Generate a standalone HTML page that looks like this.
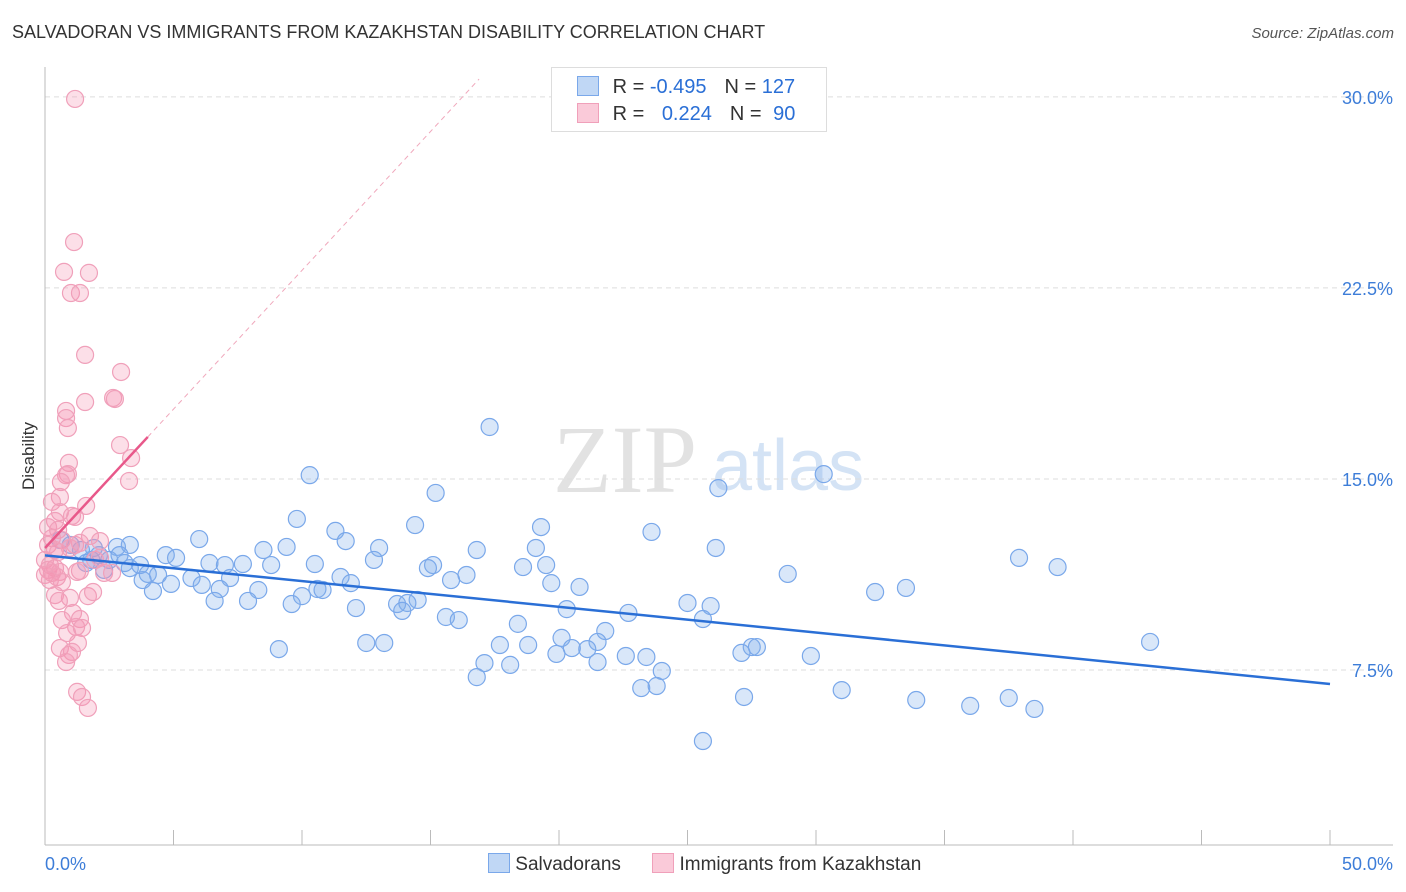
<!DOCTYPE html>
<html><head><meta charset="utf-8"><style>
body{margin:0;background:#fff;font-family:"Liberation Sans",sans-serif;}
#wrap{position:relative;width:1406px;height:892px;overflow:hidden;}
.t{position:absolute;white-space:nowrap;}
</style></head><body>
<div id="wrap">
<div class="t" style="left:12px;top:22px;font-size:18px;color:#333;">SALVADORAN VS IMMIGRANTS FROM KAZAKHSTAN DISABILITY CORRELATION CHART</div>
<div class="t" style="right:12px;top:25px;font-size:15px;color:#555;font-style:italic;">Source: ZipAtlas.com</div>
<svg id="svg" width="1406" height="892" style="position:absolute;left:0;top:0"></svg>
</div>
<script>
const yTicks=[7.5,15.0,22.5,30.0];
const xTickLabels=["0.0%","50.0%"];
const blueX=[17.3,30.3,10.3,26.2,15.2,9.8,14.4,19.3,23.6,11.3,6.0,11.7,2.8,16.8,19.1,26.1,8.5,9.4,13.0,4.7,5.1,37.9,39.4,6.4,7.7,8.8,7.0,12.8,10.5,15.1,14.9,18.6,19.5,28.9,3.3,4.0,4.4,5.7,7.2,11.5,11.9,16.4,15.8,19.7,20.8,4.9,3.8,6.1,8.3,10.6,10.8,10.0,32.3,33.5,4.2,6.8,7.9,6.6,9.6,12.1,13.7,14.5,14.1,13.9,20.3,25.0,25.9,22.7,15.6,16.1,25.6,18.4,21.8,20.1,21.5,17.7,18.8,12.5,13.2,9.1,20.5,21.1,27.5,27.7,27.1,19.9,22.6,23.4,29.8,43.0,21.5,17.1,18.1,24.0,16.8,23.2,23.8,31.0,27.2,33.9,36.0,37.5,38.5,25.6,3.3,2.1,1.8,2.5,2.3,3.1,1.9,1.4,1.0,0.6,1.6,2.9,3.7];
const blueY=[17.04,15.19,15.15,14.64,14.45,13.43,13.19,13.11,12.92,12.96,12.64,12.56,12.33,12.21,12.29,12.29,12.21,12.33,12.29,12.01,11.90,11.90,11.54,11.70,11.66,11.62,11.62,11.82,11.66,11.62,11.50,11.54,11.62,11.27,11.50,11.27,11.23,11.11,11.11,11.15,10.91,11.23,11.03,10.91,10.76,10.88,11.03,10.84,10.64,10.68,10.64,10.40,10.56,10.72,10.60,10.68,10.21,10.21,10.09,9.93,10.09,10.25,10.13,9.82,9.89,10.13,10.01,9.74,9.58,9.46,9.50,9.31,9.03,8.76,8.60,8.48,8.48,8.56,8.56,8.32,8.36,8.32,8.40,8.40,8.17,8.13,8.05,8.01,8.05,8.60,7.81,7.77,7.70,7.46,7.22,6.79,6.87,6.71,6.44,6.32,6.09,6.40,5.97,4.71,12.41,12.01,11.82,11.82,11.43,11.70,12.29,12.21,12.41,12.60,11.70,12.01,11.62];
const pinkX=[1.17,1.13,0.74,1.71,1.01,1.36,1.56,2.96,2.65,2.72,1.56,0.82,0.82,0.89,2.92,3.35,0.93,0.89,0.82,0.62,3.27,0.58,1.60,0.27,0.58,1.05,1.17,0.39,0.12,0.51,1.75,2.14,0.27,0.66,1.17,1.36,0.12,0.39,0.51,0.97,0,0.19,0.39,0.12,0.58,0.27,0,0.47,1.36,1.25,2.30,2.61,1.95,0.19,0.66,2.14,0.39,0.97,1.67,1.87,0.54,1.09,0.66,1.36,1.21,1.44,0.86,1.28,0.58,1.05,0.93,0.82,1.25,1.44,1.67];
const pinkY=[29.92,24.30,23.13,23.09,22.30,22.30,19.87,19.20,18.18,18.14,18.02,17.67,17.39,17.00,16.33,15.82,15.63,15.19,15.15,14.88,14.92,14.29,13.94,14.10,13.70,13.55,13.51,13.35,13.11,13.00,12.76,12.56,12.68,12.60,12.41,12.49,12.41,12.21,12.13,12.29,11.82,11.62,11.50,11.43,11.35,11.31,11.23,11.15,11.39,11.35,11.31,11.31,11.82,11.03,10.95,11.90,10.44,10.33,10.40,10.56,10.21,9.74,9.46,9.50,9.19,9.15,8.95,8.56,8.36,8.21,8.09,7.81,6.64,6.44,6.01];
const blueTrend=[12.0,6.95]; // y at x=0 and x=50
const pinkTrend=[12.29,1.09]; // intercept, slope
const NS="http://www.w3.org/2000/svg";
const svg=document.getElementById('svg');
const sx=v=>45+v*25.7, sy=v=>861-v*25.47;
function el(t,a,p){const e=document.createElementNS(NS,t);for(const k in a)e.setAttribute(k,a[k]);(p||svg).appendChild(e);return e;}
// watermark
let w=el('text',{x:553,y:492,'font-size':96,'font-family':'Liberation Serif,serif',fill:'#e2e2e2'});w.textContent='ZIP';


w=el('text',{x:712,y:490,'font-size':72,'font-family':'Liberation Sans,sans-serif',fill:'#d4e3f5'});w.textContent='atlas';


// grid
for(const t of yTicks){
 const g=el('line',{x1:45,x2:1393,y1:sy(t),y2:sy(t),stroke:'#ddd','stroke-dasharray':'5,4'});
 
 
 const l=el('text',{x:1393,y:sy(t)+7,'text-anchor':'end','font-size':18,fill:'#3d7dd8'});l.textContent=t.toFixed(1)+'%';
 
 
}
let ax=el('line',{x1:45,x2:45,y1:67,y2:845,stroke:'#bbb'});


ax=el('line',{x1:45,x2:1393,y1:845,y2:845,stroke:'#bbb'});


for(let i=0;i<=10;i++){const tk=el('line',{x1:sx(i*5),x2:sx(i*5),y1:830,y2:845,stroke:'#bbb'});
 
 }
let xl=el('text',{x:45,y:870,'font-size':18,fill:'#3d7dd8'});xl.textContent=xTickLabels[0];


xl=el('text',{x:1393,y:870,'text-anchor':'end','font-size':18,fill:'#3d7dd8'});xl.textContent=xTickLabels[1];


let yt=el('text',{x:34,y:456,'font-size':17,fill:'#333','text-anchor':'middle',transform:'rotate(-90 34 456)'});yt.textContent='Disability';


// points
for(let i=0;i<blueX.length;i++){const c=el('circle',{cx:sx(blueX[i]),cy:sy(blueY[i]),r:8.5,fill:'rgba(130,175,235,0.3)',stroke:'#7aa8ea','stroke-width':1.2});
 
 }
for(let i=0;i<pinkX.length;i++){const c=el('circle',{cx:sx(pinkX[i]),cy:sy(pinkY[i]),r:8.5,fill:'rgba(245,150,180,0.3)',stroke:'#f0a0ba','stroke-width':1.2});
 
 }
// trends
let tl=el('line',{x1:sx(0),y1:sy(blueTrend[0]),x2:sx(50),y2:sy(blueTrend[1]),stroke:'#2a6fd6','stroke-width':2.5});


const xEnd=(30.7-pinkTrend[0])/pinkTrend[1];
tl=el('line',{x1:sx(4),y1:sy(pinkTrend[0]+4*pinkTrend[1]),x2:sx(xEnd),y2:sy(30.7),stroke:'#f0a8bc','stroke-width':1,'stroke-dasharray':'5,4'});


tl=el('line',{x1:sx(0),y1:sy(pinkTrend[0]),x2:sx(4),y2:sy(pinkTrend[0]+4*pinkTrend[1]),stroke:'#e8588a','stroke-width':2.5});


</script>
<div class="t" style="left:551px;top:67px;width:274px;height:63px;border:1px solid #ddd;background:#fff;font-size:20px;">
 <div style="position:absolute;left:25px;top:8px;"><span style="display:inline-block;width:20px;height:18px;background:rgba(130,175,235,0.5);border:1px solid #7aa8ea;vertical-align:-3px;"></span>
 <span style="color:#333;margin-left:8px;">R = </span><span style="color:#2a6fd6;">-0.495</span><span style="color:#333;margin-left:18px;">N = </span><span style="color:#2a6fd6;">127</span></div>
 <div style="position:absolute;left:25px;top:35px;"><span style="display:inline-block;width:20px;height:18px;background:rgba(245,150,180,0.5);border:1px solid #f0a0ba;vertical-align:-3px;"></span>
 <span style="color:#333;margin-left:8px;">R = </span><span style="color:#2a6fd6;margin-left:12px;">0.224</span><span style="color:#333;margin-left:18px;">N = </span><span style="color:#2a6fd6;margin-left:6px;">90</span></div>
</div>
<div class="t" style="left:488px;top:853px;font-size:19px;color:#333;">
 <span><span style="display:inline-block;width:20px;height:18px;background:rgba(130,175,235,0.5);border:1px solid #7aa8ea;vertical-align:-3px;"></span> Salvadorans</span>
 <span style="margin-left:26px;"><span style="display:inline-block;width:20px;height:18px;background:rgba(245,150,180,0.5);border:1px solid #f0a0ba;vertical-align:-3px;"></span> Immigrants from Kazakhstan</span>
</div>
</body></html>
